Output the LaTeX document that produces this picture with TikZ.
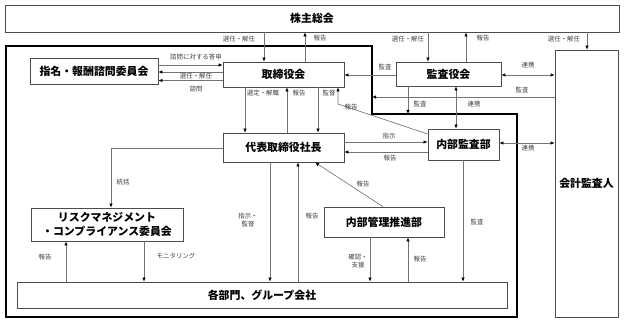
\documentclass[tikz,border=0pt]{standalone}
\usepackage{fontspec}
\setmainfont{Noto Sans CJK JP}
\usetikzlibrary{arrows.meta}

\begin{document}
\begin{tikzpicture}[x=0.03cm, y=-0.03cm,
    box/.style={draw=black!70, line width=0.6pt, fill=white, inner sep=0pt, align=center,
        font=\fontsize{9.3}{11.5}\selectfont\bfseries},
    sz/.style 2 args={minimum width=#1*0.03cm, minimum height=#2*0.03cm},
    lbl/.style={font=\fontsize{5.5}{6.8}\selectfont, text=black!75, inner sep=0pt, align=center},
    arr/.style={-{Latex[length=3.5pt,width=3pt,color=black]}, draw=black!55, line width=0.55pt},
    dbl/.style={{Latex[length=3.5pt,width=3pt,color=black]}-{Latex[length=3.5pt,width=3pt,color=black]},
        draw=black!55, line width=0.55pt}]
  \useasboundingbox (0,0) rectangle (625,323);

  % company frame
  \coordinate (nw) at (6,46);
  \coordinate (tn) at (372,46);
  \coordinate (ts) at (372,114);
  \coordinate (te) at (517,114);
  \coordinate (se) at (517,317);
  \coordinate (sw) at (6,317);
  \draw[line width=1.6pt] (nw) -- (tn) -- (ts) -- (te) -- (se) -- (sw) -- cycle;

  % boxes
  \node[box, sz={614}{27}] (sh) at (312,18.5) {株主総会};
  \node[box, sz={128}{26}] (nc) at (94,71) {指名・報酬諮問委員会};
  \node[box, sz={121}{25}] (bd) at (283.5,74.5) {取締役会};
  \node[box, sz={105}{24}] (asb) at (448.5,74) {監査役会};
  \node[box, sz={63}{267}] (ea) at (586.5,183.5) {会計監査人};
  \node[box, sz={121}{29}] (ceo) at (283.5,147.5) {代表取締役社長};
  \node[box, sz={71}{31}] (ia) at (463.5,144.5) {内部監査部};
  \node[box, sz={152}{33}] (rc) at (107,224.5) {リスクマネジメント\\・コンプライアンス委員会};
  \node[box, sz={120}{30}] (icp) at (384,222) {内部管理推進部};
  \node[box, sz={490}{26}] (dept) at (262,295) {各部門、グループ会社};

  % shareholders
  \draw[arr] (sh.south -| 264,0) -- (bd.north -| 264,0);
  \draw[arr] (bd.north -| 305,0) -- (sh.south -| 305,0);
  \draw[arr] (sh.south -| 428,0) -- (asb.north -| 428,0);
  \draw[arr] (asb.north -| 466,0) -- (sh.south -| 466,0);
  \draw[arr] (sh.south -| 587,0) -- (ea.north -| 587,0);

  % nomination committee
  \draw[arr] (nc.east |- 0,65) -- (bd.west |- 0,65);
  \draw[arr] (bd.west |- 0,72) -- (nc.east |- 0,72);
  \draw[arr] (bd.west |- 0,80.5) -- (nc.east |- 0,80.5);

  % auditors
  \draw[arr] (asb.west |- 0,75) -- (bd.east |- 0,75);
  \draw[dbl] (asb.east |- 0,75) -- (ea.west |- 0,75);
  \draw[arr] (ea.west |- 0,97) -- (ts |- 0,97);
  \draw[arr] (asb.south -| 408,0) -- (ts -| 408,0);
  \draw[dbl] (asb.south -| 456,0) -- (ia.north -| 456,0);

  % board and president
  \draw[arr] (bd.south -| 245,0) -- (ceo.north -| 245,0);
  \draw[arr] (ceo.north -| 287,0) -- (bd.south -| 287,0);
  \draw[arr] (bd.south -| 318,0) -- (ceo.north -| 318,0);
  \draw[arr] (ia.west |- 0,134) -- (338,104) -- (bd.south -| 338,0);

  % internal audit
  \draw[arr] (ceo.east |- 0,142) -- (ia.west |- 0,142);
  \draw[arr] (ia.west |- 0,152) -- (ceo.east |- 0,152);
  \draw[dbl] (ia.east |- 0,143) -- (ea.west |- 0,143);
  \draw[arr] (ia.south -| 463,0) -- (dept.north -| 463,0);

  % internal control
  \draw[arr] (icp.north -| 383,0) -- (ceo.south -| 315,0);
  \draw[arr] (icp.south -| 370,0) -- (dept.north -| 370,0);
  \draw[arr] (dept.north -| 408,0) -- (icp.south -| 408,0);

  % president and departments
  \draw[arr] (ceo.south -| 270,0) -- (dept.north -| 270,0);
  \draw[arr] (dept.north -| 298,0) -- (ceo.south -| 298,0);

  % risk committee
  \draw[arr] (ceo.west |- 0,148) -| (rc.north -| 111,0);
  \draw[arr] (dept.north -| 66,0) -- (rc.south -| 66,0);
  \draw[arr] (rc.south -| 144,0) -- (dept.north -| 144,0);

  % labels
  \foreach \x/\y/\t [count=\i] in {
      239/39/選任・解任, 320/38/報告, 408/39/選任・解任, 483/38/報告, 564/39/選任・解任,
      196/57/諮問に対する答申, 196/76/選任・解任, 196/89/諮問,
      385/67/監査, 528/65/連携, 522/90/監査, 420/104/監査, 474/104/連携,
      263/93/選定・解職, 299/93/報告, 329/93/監督, 351/107/報告,
      389/136/指示, 390/158/報告, 528/148/連携, 477/222/監査,
      363/184/報告, 358/261/確認・\\支援, 420/259/報告,
      248/220/指示・\\監督, 312/216/報告,
      123/182/統括, 45/257/報告, 176/256/モニタリング}
    \node[lbl] (l\i) at (\x,\y) {\t};
\end{tikzpicture}
\end{document}
